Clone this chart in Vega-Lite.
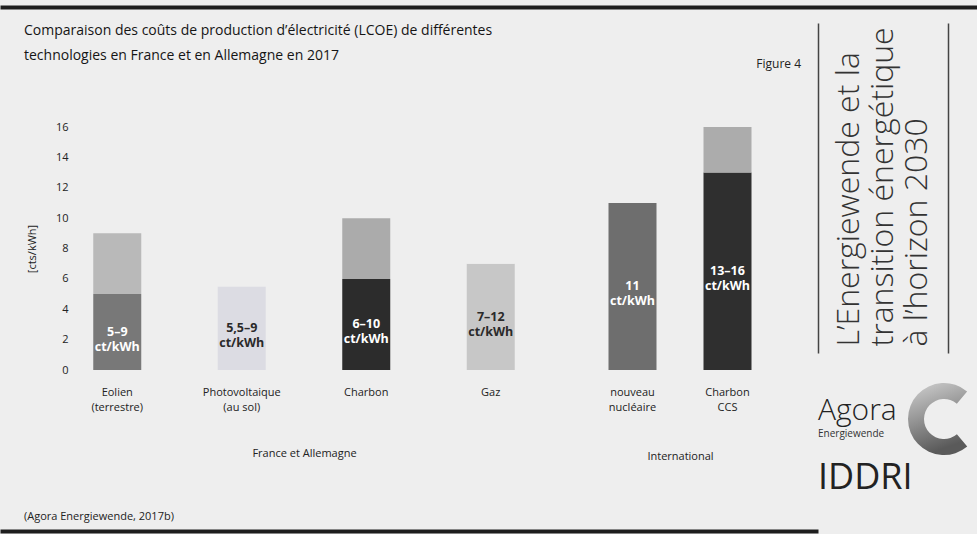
{
  "$schema": "https://vega.github.io/schema/vega-lite/v6.json",
  "background": "#eeeeee",
  "padding": {"top": 5, "left": 0, "right": 0, "bottom": 0},
  "config": {
    "view": {"stroke": null},
    "font": "Open Sans",
    "title": {"font": "Open Sans", "color": "#222222", "subtitleFont": "Open Sans"},
    "axis": {
      "labelFont": "Open Sans",
      "titleFont": "Open Sans",
      "labelColor": "#222222",
      "titleColor": "#222222",
      "grid": false,
      "ticks": false,
      "domain": false,
      "titleFontWeight": "normal"
    }
  },
  "datasets": {
    "lcoe": [
      {"techno": "Eolien\n(terrestre)", "zone": "France et Allemagne", "min": 5, "max": 9, "etiquette": "5–9\nct/kWh"},
      {"techno": "Photovoltaique\n(au sol)", "zone": "France et Allemagne", "min": 5.5, "max": 9, "etiquette": "5,5–9\nct/kWh"},
      {"techno": "Charbon", "zone": "France et Allemagne", "min": 6, "max": 10, "etiquette": "6–10\nct/kWh"},
      {"techno": "Gaz", "zone": "France et Allemagne", "min": 7, "max": 12, "etiquette": "7–12\nct/kWh"},
      {"techno": "nouveau\nnucléaire", "zone": "International", "min": 11, "max": 11, "etiquette": "11\nct/kWh"},
      {"techno": "Charbon\nCCS", "zone": "International", "min": 13, "max": 16, "etiquette": "13–16\nct/kWh"}
    ]
  },
  "spacing": 13,
  "vconcat": [
    {
      "width": 977, "height": 1,
      "data": {"values": [{}]},
      "mark": {"type": "point", "opacity": 0, "size": 0},
      "encoding": {},
      "view": {"stroke": "#1e1e1e", "strokeWidth": 3, "fill": "#1e1e1e"}
    },
    {
      "spacing": 7,
      "vconcat": [
        {
          "spacing": 0,
          "hconcat": [
            {
              "width": 22, "height": 1,
              "data": {"values": [{}]},
              "mark": {"type": "point", "opacity": 0, "size": 0},
              "encoding": {}
            },
            {
              "spacing": 17,
              "hconcat": [
                {
                  "title": {
                    "text": "(Agora Energiewende, 2017b)",
                    "orient": "bottom",
                    "anchor": "start",
                    "fontSize": 11,
                    "fontWeight": "normal",
                    "offset": 50
                  },
                  "spacing": -5,
                  "vconcat": [
                    {
                      "width": 1, "height": 1,
                      "data": {"values": [{}]},
                      "mark": {"type": "point", "opacity": 0, "size": 0},
                      "encoding": {},
                      "title": {
                        "text": [
                          "Comparaison des coûts de production d’électricité (LCOE) de différentes",
                          "technologies en France et en Allemagne en 2017"
                        ],
                        "orient": "bottom",
                        "anchor": "start",
                        "fontSize": 14,
                        "fontWeight": "normal",
                        "color": "#151515",
                        "lineHeight": 25,
                        "offset": 0,
                        "dx": -31
                      }
                    },
                    {
                      "spacing": 32,
                      "hconcat": [
                        {
                          "width": 498, "height": 243,
                          "data": {"name": "lcoe"},
                          "transform": [
                            {"filter": "datum.zone === 'France et Allemagne'"},
                            {"calculate": "datum.min / 2", "as": "milieu"}
                          ],
                          "encoding": {
                            "x": {
                              "field": "techno", "type": "nominal", "sort": null,
                              "scale": {"paddingInner": 0, "paddingOuter": 0},
                              "axis": {
                                "title": "France et Allemagne",
                                "labelAngle": 0,
                                "labelExpr": "split(datum.label, '\\n')",
                                "labelFontSize": 11,
                                "labelLineHeight": 15,
                                "labelPadding": 16,
                                "titleFontSize": 11,
                                "titlePadding": 35
                              }
                            }
                          },
                          "layer": [
                            {
                              "mark": {"type": "bar", "width": 48},
                              "encoding": {
                                "y": {
                                  "field": "min", "type": "quantitative", "stack": null,
                                  "scale": {"domain": [0, 16]},
                                  "axis": {
                                    "title": "[cts/kWh]",
                                    "values": [0, 2, 4, 6, 8, 10, 12, 14, 16],
                                    "labelOverlap": false,
                                    "offset": -15,
                                    "labelPadding": 2,
                                    "labelFontSize": 11,
                                    "titleFontSize": 11,
                                    "titlePadding": 18
                                  }
                                },
                                "color": {
                                  "field": "techno", "type": "nominal", "legend": null,
                                  "scale": {
                                    "domain": ["Eolien\n(terrestre)", "Photovoltaique\n(au sol)", "Charbon", "Gaz"],
                                    "range": ["#787878", "#dcdce3", "#2c2c2c", "#c7c7c7"]
                                  }
                                }
                              }
                            },
                            {
                              "mark": {"type": "bar", "width": 48},
                              "encoding": {
                                "y": {
                                  "field": "min", "type": "quantitative",
                                  "axis": {
                                    "title": "[cts/kWh]",
                                    "values": [0, 2, 4, 6, 8, 10, 12, 14, 16],
                                    "labelOverlap": false,
                                    "offset": -15,
                                    "labelPadding": 2,
                                    "labelFontSize": 11,
                                    "titleFontSize": 11,
                                    "titlePadding": 18
                                  }
                                },
                                "y2": {"field": "max"},
                                "color": {
                                  "field": "techno", "type": "nominal", "legend": null,
                                  "scale": {
                                    "domain": ["Eolien\n(terrestre)", "Photovoltaique\n(au sol)", "Charbon", "Gaz"],
                                    "range": ["#b9b9b9", "#eeeeee", "#ababab", "#eeeeee"]
                                  }
                                }
                              }
                            },
                            {
                              "mark": {"type": "text", "fontSize": 12.5, "fontWeight": "bold", "lineBreak": "\n", "lineHeight": 15, "baseline": "middle"},
                              "encoding": {
                                "y": {
                                  "field": "milieu", "type": "quantitative",
                                  "axis": {
                                    "title": "[cts/kWh]",
                                    "values": [0, 2, 4, 6, 8, 10, 12, 14, 16],
                                    "labelOverlap": false,
                                    "offset": -15,
                                    "labelPadding": 2,
                                    "labelFontSize": 11,
                                    "titleFontSize": 11,
                                    "titlePadding": 18
                                  }
                                },
                                "text": {"field": "etiquette"},
                                "color": {
                                  "field": "techno", "type": "nominal", "legend": null,
                                  "scale": {
                                    "domain": ["Eolien\n(terrestre)", "Photovoltaique\n(au sol)", "Charbon", "Gaz"],
                                    "range": ["#ffffff", "#2a2a2a", "#ffffff", "#2a2a2a"]
                                  }
                                }
                              }
                            }
                          ],
                          "resolve": {"scale": {"color": "independent"}}
                        },
                        {
                          "width": 190, "height": 243,
                          "title": {
                            "text": "Figure 4",
                            "anchor": "end",
                            "fontSize": 12,
                            "fontWeight": "normal",
                            "offset": 56,
                            "dx": 26
                          },
                          "data": {"name": "lcoe"},
                          "transform": [
                            {"filter": "datum.zone === 'International'"},
                            {"calculate": "datum.min / 2", "as": "milieu"}
                          ],
                          "encoding": {
                            "x": {
                              "field": "techno", "type": "nominal", "sort": null,
                              "scale": {"paddingInner": 0, "paddingOuter": 0},
                              "axis": {
                                "title": "International",
                                "labelAngle": 0,
                                "labelExpr": "split(datum.label, '\\n')",
                                "labelFontSize": 11,
                                "labelLineHeight": 15,
                                "labelPadding": 16,
                                "titleFontSize": 11,
                                "titlePadding": 38
                              }
                            }
                          },
                          "layer": [
                            {
                              "mark": {"type": "bar", "width": 48},
                              "encoding": {
                                "y": {"field": "min", "type": "quantitative", "stack": null, "scale": {"domain": [0, 16]}, "axis": null},
                                "color": {
                                  "field": "techno", "type": "nominal", "legend": null,
                                  "scale": {"domain": ["nouveau\nnucléaire", "Charbon\nCCS"], "range": ["#6e6e6e", "#2f2f2f"]}
                                }
                              }
                            },
                            {
                              "mark": {"type": "bar", "width": 48},
                              "encoding": {
                                "y": {"field": "min", "type": "quantitative", "axis": null},
                                "y2": {"field": "max"},
                                "color": {
                                  "field": "techno", "type": "nominal", "legend": null,
                                  "scale": {"domain": ["nouveau\nnucléaire", "Charbon\nCCS"], "range": ["#a9a9a9", "#acacac"]}
                                }
                              }
                            },
                            {
                              "mark": {"type": "text", "fontSize": 12.5, "fontWeight": "bold", "lineBreak": "\n", "lineHeight": 15, "baseline": "middle", "color": "#ffffff"},
                              "encoding": {
                                "y": {"field": "milieu", "type": "quantitative", "axis": null},
                                "text": {"field": "etiquette"}
                              }
                            }
                          ],
                          "resolve": {"scale": {"color": "independent"}}
                        }
                      ]
                    }
                  ]
                },
                {
                  "spacing": 28,
                  "vconcat": [
                    {
                      "width": 130, "height": 330,
                      "data": {"values": [
                        {"ligne": "L’Energiewende et la"},
                        {"ligne": "transition énergétique"},
                        {"ligne": "à l’horizon 2030"}
                      ]},
                      "layer": [
                        {
                          "mark": {"type": "text", "angle": 270, "align": "left", "baseline": "alphabetic", "fontSize": 32, "fontWeight": 300, "color": "#333333"},
                          "encoding": {
                            "x": {
                              "field": "ligne", "type": "nominal", "sort": null, "axis": null,
                              "scale": {"type": "band", "paddingInner": 0, "paddingOuter": 0.41, "align": 0.85}
                            },
                            "y": {
                              "datum": 0, "type": "quantitative",
                              "scale": {"domain": [-0.02, 1], "nice": false, "zero": false},
                              "axis": {"orient": "left", "domain": true, "domainColor": "#444444", "domainWidth": 1.5, "labels": false, "ticks": false, "title": null, "grid": false}
                            },
                            "text": {"field": "ligne"}
                          }
                        },
                        {
                          "mark": {"type": "text", "opacity": 0},
                          "encoding": {
                            "y": {
                              "datum": 0, "type": "quantitative",
                              "axis": {"orient": "right", "domain": true, "domainColor": "#444444", "domainWidth": 1.5, "labels": false, "ticks": false, "title": null, "grid": false}
                            },
                            "text": {"value": ""}
                          }
                        }
                      ],
                      "resolve": {"axis": {"y": "independent"}}
                    },
                    {
                      "spacing": 0,
                      "title": {
                        "text": "IDDRI",
                        "orient": "bottom",
                        "anchor": "start",
                        "fontSize": 36,
                        "fontWeight": 400,
                        "color": "#222222",
                        "offset": 4
                      },
                      "hconcat": [
                        {
                          "width": 88, "height": 1,
                          "data": {"values": [{}]},
                          "mark": {"type": "point", "opacity": 0, "size": 0},
                          "encoding": {},
                          "title": {
                            "text": "Agora",
                            "subtitle": "Energiewende",
                            "orient": "bottom",
                            "anchor": "start",
                            "fontSize": 30,
                            "fontWeight": 300,
                            "color": "#222222",
                            "subtitleFontSize": 10,
                            "subtitleColor": "#333333",
                            "subtitlePadding": 3,
                            "offset": 14
                          }
                        },
                        {
                          "width": 76, "height": 76,
                          "data": {"values": [{}]},
                          "mark": {
                            "type": "arc",
                            "theta": 2.44, "theta2": 6.98,
                            "radius": 36, "radius2": 20,
                            "color": {
                              "gradient": "linear",
                              "x1": 0, "y1": 0, "x2": 0.3, "y2": 1,
                              "stops": [
                                {"offset": 0, "color": "#d2d2d2"},
                                {"offset": 1, "color": "#5a5a5a"}
                              ]
                            }
                          },
                          "encoding": {}
                        }
                      ]
                    }
                  ]
                }
              ]
            }
          ]
        },
        {
          "width": 815, "height": 1,
          "data": {"values": [{}]},
          "mark": {"type": "point", "opacity": 0, "size": 0},
          "encoding": {},
          "view": {"stroke": "#1e1e1e", "strokeWidth": 3, "fill": "#1e1e1e"}
        }
      ]
    }
  ]
}
